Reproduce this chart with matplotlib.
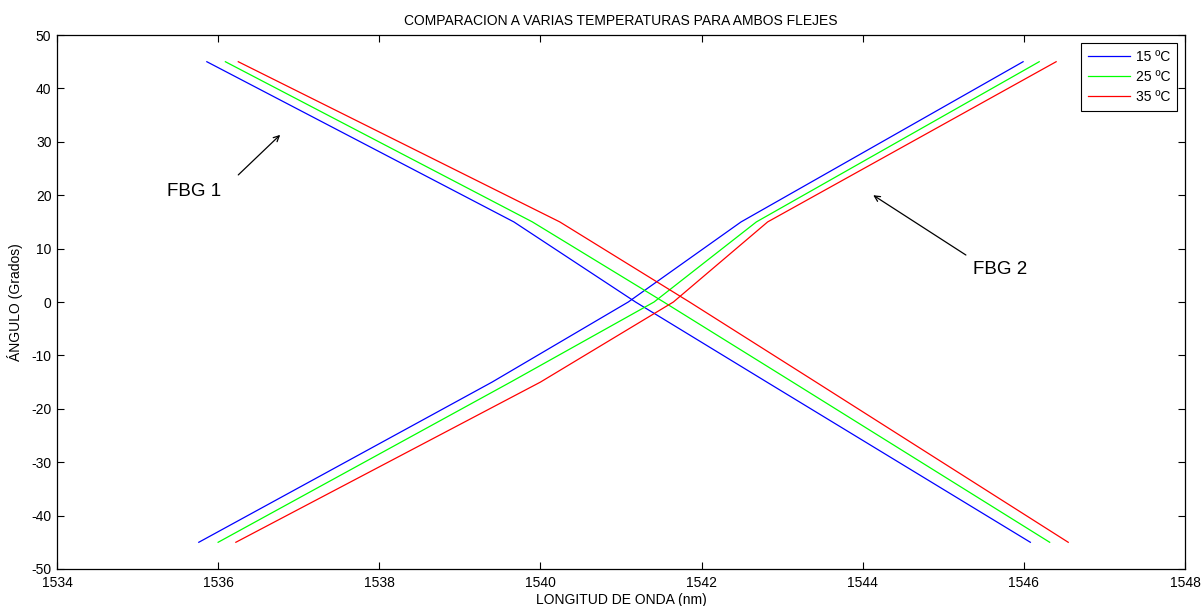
import matplotlib
matplotlib.use("Agg")
import matplotlib.pyplot as plt

plt.rcParams['font.family'] = ['Liberation Sans', 'DejaVu Sans']
plt.rcParams['axes.unicode_minus'] = False

# Angles (degrees) at which wavelengths were read
angles_fbg1 = [45, 15, 0, -15, -45]
angles_fbg2 = [-45, -15, 0, 15, 45]

# FBG 1 wavelengths (nm)
fbg1_15 = [1535.86, 1539.67, 1541.18, 1542.81, 1546.08]
fbg1_25 = [1536.09, 1539.90, 1541.53, 1543.13, 1546.32]
fbg1_35 = [1536.25, 1540.24, 1541.85, 1543.42, 1546.55]

# FBG 2 wavelengths (nm)
fbg2_15 = [1535.76, 1539.40, 1541.09, 1542.49, 1545.99]
fbg2_25 = [1536.00, 1539.63, 1541.41, 1542.68, 1546.19]
fbg2_35 = [1536.22, 1540.00, 1541.65, 1542.82, 1546.40]

labels = ['15 ºC', '25 ºC', '35 ºC']
colors = ['#0000ff', '#00ff00', '#ff0000']

xticks = list(range(1534, 1549, 2))
yticks = list(range(-50, 51, 10))

fig = plt.figure(figsize=(12.02, 6.06), dpi=100)
ax = fig.add_axes([0.0474, 0.0611, 0.9385, 0.8811])

for f1, f2, lab, c in zip([fbg1_15, fbg1_25, fbg1_35], [fbg2_15, fbg2_25, fbg2_35], labels, colors):
    ax.plot(f1, angles_fbg1, color=c, lw=0.9, label=lab)
    ax.plot(f2, angles_fbg2, color=c, lw=0.9)

ax.set_xlim(1534, 1548)
ax.set_ylim(-50, 50)
ax.set_xticks(xticks)
ax.set_yticks(yticks)
ax.tick_params(direction='in', top=True, right=True, labelsize=10, length=5, width=0.8)
ax.tick_params(axis='x', pad=5)
ax.tick_params(axis='y', pad=4)
for s in ax.spines.values():
    s.set_linewidth(0.9)

ax.set_title('COMPARACION A VARIAS TEMPERATURAS PARA AMBOS FLEJES', fontsize=10, pad=7)
ax.set_xlabel('LONGITUD DE ONDA (nm)', fontsize=10, labelpad=2)
ax.set_ylabel('ÁNGULO (Grados)', fontsize=10, labelpad=6)

arrow = dict(arrowstyle='->', color='black', lw=0.9, shrinkA=0, shrinkB=0)
ax.annotate('', xy=(1536.77, 31.3), xytext=(1536.25, 23.8), arrowprops=arrow)
ax.annotate('', xy=(1544.13, 20.0), xytext=(1545.28, 8.8), arrowprops=arrow)
ax.text(1535.70, 20.7, 'FBG 1', fontsize=13.5, ha='center', va='center')
ax.text(1545.71, 6.0, 'FBG 2', fontsize=13.5, ha='center', va='center')

leg = ax.legend(loc='upper right', fontsize=10, fancybox=False, edgecolor='black',
                framealpha=1, handlelength=3.0, borderaxespad=0.55, labelspacing=0.45,
                borderpad=0.5, handletextpad=0.45)
leg.get_frame().set_linewidth(0.8)

fig.savefig('out.png', dpi=100)
